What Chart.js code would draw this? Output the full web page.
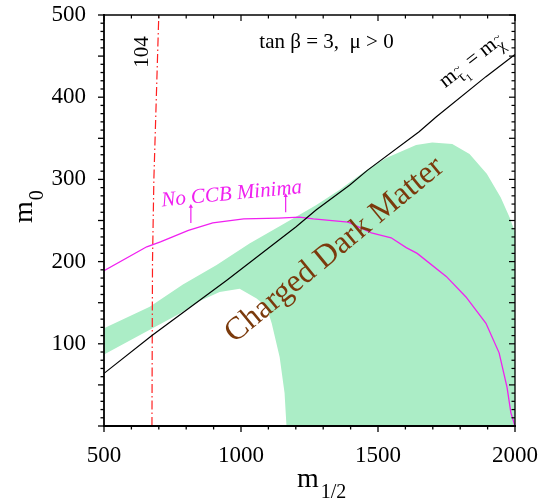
<!DOCTYPE html>
<html>
<head>
<meta charset="utf-8">
<script src="https://cdn.jsdelivr.net/npm/chart.js@4.4.0/dist/chart.umd.min.js"></script>
<style>
  html, body { margin: 0; padding: 0; background: #fff; }
  #wrap { width: 545px; height: 504px; }
</style>
</head>
<body>
<div id="wrap"><canvas id="chart" width="545" height="504"></canvas></div>
<script>
// tick labels
const xTickValues = [500, 1000, 1500, 2000];
const yTickValues = [100, 200, 300, 400, 500];

// m_stau1 = m_chi boundary
const stauX = [500, 675, 947, 1200, 1275, 1396, 1461, 1650, 1712, 1894, 2000];
const stauY = [64, 110, 177, 242, 263, 293, 311, 358, 376, 425, 452];

// LEP 104 contour
const lepX = [675, 677, 682, 691, 700];
const lepY = [0, 200, 300, 400, 500];

// No CCB minima boundary
const ccbX = [500, 656, 706, 808, 897, 1010, 1137, 1213, 1264, 1391, 1476, 1548, 1603, 1643, 1749, 1821, 1894, 1942, 1971, 1985, 2000];
const ccbY = [189, 218, 224, 238, 247, 252, 253, 254, 252, 248, 235, 229, 217, 210, 182, 157, 125, 89, 47, 16, 0];

// arrows on the CCB line
const arrowX = [817, 1163];
const arrowFrom = [247, 260];
const arrowTo = [267, 280];

// charged dark matter region (closed outline)
const cdmX = [500, 667, 788, 911, 1031, 1152, 1275, 1359, 1457, 1530, 1639, 1698, 1771, 1834, 1897, 1948, 1980, 2000,
              2000, 1166, 1159, 1141, 1112, 1093, 1057, 995, 922, 849, 777, 667, 500];
const cdmY = [119, 145, 172, 196, 222, 245, 269, 287, 311, 326, 342, 345, 343, 331, 307, 278, 254, 236,
              0, 0, 40, 84, 125, 145, 155, 167, 163, 152, 137, 117, 87];

const SERIF = '"Liberation Serif", "DejaVu Serif", serif';
const pts = (xs, ys) => xs.map((x, i) => ({ x: x, y: ys[i] }));

const datasets = [
    {
        data: pts(cdmX, cdmY),
        showLine: true,
        fill: 'shape',
        backgroundColor: '#abedc6',
        borderColor: 'rgba(0,0,0,0)',
        borderWidth: 0,
        pointRadius: 0,
        order: 10
    },
    {
        data: pts(stauX, stauY),
        showLine: true,
        borderColor: '#000',
        borderWidth: 1.2,
        pointRadius: 0,
        order: 2
    },
    {
        data: pts(ccbX, ccbY),
        showLine: true,
        borderColor: '#f020f0',
        borderWidth: 1.3,
        pointRadius: 0,
        order: 2
    },
    {
        data: pts(lepX, lepY),
        showLine: true,
        borderColor: '#ff2020',
        borderWidth: 1.2,
        borderDash: [9, 3, 1.5, 3],
        pointRadius: 0,
        order: 2
    }
];

arrowX.forEach((ax, i) => {
    datasets.push({
        data: [{ x: ax, y: arrowFrom[i] }, { x: ax, y: arrowTo[i] }],
        showLine: true,
        borderColor: '#f020f0',
        backgroundColor: '#f020f0',
        borderWidth: 1.2,
        pointStyle: 'triangle',
        pointRadius: [0, 2.5],
        pointBorderWidth: 0,
        order: 1
    });
});

// marco, marcas de los ejes y textos
const decorPlugin = {
    id: 'decor',
    afterDatasetsDraw(chart) {
        const ctx = chart.ctx;
        const xs = chart.scales.x, ys = chart.scales.y;
        const { left, right, top, bottom } = chart.chartArea;
        const px = v => xs.getPixelForValue(v);
        const py = v => ys.getPixelForValue(v);

        ctx.save();
        ctx.fillStyle = '#7b3a0c';
        ctx.font = '32px ' + SERIF;
        ctx.textAlign = 'center';
        ctx.textBaseline = 'middle';
        ctx.translate(px(1341), py(214));
        ctx.rotate(-39.5 * Math.PI / 180);
        ctx.fillText('Charged Dark Matter', 0, 0);
        ctx.restore();

        ctx.save();
        ctx.fillStyle = '#f020f0';
        ctx.font = 'italic 21px ' + SERIF;
        ctx.textAlign = 'center';
        ctx.textBaseline = 'middle';
        ctx.translate(px(966), py(282));
        ctx.rotate(-5.5 * Math.PI / 180);
        ctx.fillText('No CCB Minima', 0, 0);
        ctx.restore();

        ctx.save();
        ctx.fillStyle = '#000';
        ctx.font = '21px ' + SERIF;
        ctx.textAlign = 'center';
        ctx.textBaseline = 'middle';
        ctx.fillText('tan \u03b2 = 3,  \u03bc > 0', px(1312), py(467));
        ctx.translate(px(642), py(455));
        ctx.rotate(-Math.PI / 2);
        ctx.fillText('104', 0, 0);
        ctx.restore();

        // m_stau1 = m_chi label
        ctx.save();
        ctx.fillStyle = '#000';
        ctx.textAlign = 'left';
        ctx.textBaseline = 'alphabetic';
        ctx.translate(px(1745), py(411));
        ctx.rotate(-38 * Math.PI / 180);
        let cx = 0;
        ctx.font = '21px ' + SERIF;
        ctx.fillText('m', cx, 0);
        cx += ctx.measureText('m').width;
        ctx.font = '16px ' + SERIF;
        ctx.fillText('\u03c4', cx, 6);
        ctx.font = '13px ' + SERIF;
        ctx.fillText('~', cx + 1, -4);
        ctx.font = '16px ' + SERIF;
        cx += ctx.measureText('\u03c4').width;
        ctx.font = '11px ' + SERIF;
        ctx.fillText('1', cx, 10);
        cx += ctx.measureText('1').width;
        ctx.font = '21px ' + SERIF;
        ctx.fillText(' = m', cx, 0);
        cx += ctx.measureText(' = m').width;
        ctx.font = '16px ' + SERIF;
        ctx.fillText('\u03c7', cx, 6);
        ctx.font = '13px ' + SERIF;
        ctx.fillText('~', cx + 1, -4);
        ctx.restore();

        // marco
        ctx.save();
        ctx.strokeStyle = '#000';
        ctx.lineCap = 'square';
        const seg = (x1, y1, x2, y2, w) => {
            ctx.lineWidth = w;
            ctx.beginPath();
            ctx.moveTo(x1, y1);
            ctx.lineTo(x2, y2);
            ctx.stroke();
        };
        seg(left, top, right, top, 1.3);
        seg(right, top, right, bottom, 1.3);
        seg(left, bottom, right, bottom, 1.8);
        seg(left, top, left, bottom, 1.8);

        ctx.lineCap = 'butt';
        for (let v = 500; v <= 2000; v += 100) {
            const x = px(v);
            const len = v % 500 === 0 ? 6 : 3.5;
            seg(x, bottom, x, bottom + len, 1.3);
            seg(x, top, x, top + len, 1.2);
        }
        for (let v = 0; v <= 500; v += 10) {
            const y = py(v);
            const len = v % 50 === 0 ? 6 : 3.5;
            seg(left - len, y, left, y, 1.3);
            seg(right - len, y, right, y, 1.2);
        }
        ctx.restore();

        // titulos de los ejes
        ctx.save();
        ctx.fillStyle = '#000';
        ctx.textAlign = 'left';
        ctx.textBaseline = 'alphabetic';
        ctx.font = '28px ' + SERIF;
        ctx.fillText('m', 297, 487);
        let w = ctx.measureText('m').width;
        ctx.font = '20px ' + SERIF;
        ctx.fillText('1/2', 297 + w + 2, 498);

        ctx.translate(32, 223);
        ctx.rotate(-Math.PI / 2);
        ctx.font = '28px ' + SERIF;
        ctx.fillText('m', 0, 0);
        w = ctx.measureText('m').width;
        ctx.font = '20px ' + SERIF;
        ctx.fillText('0', w + 1, 11);
        ctx.restore();
    }
};

new Chart(document.getElementById('chart'), {
    type: 'scatter',
    data: { datasets: datasets },
    options: {
        responsive: false,
        animation: false,
        devicePixelRatio: 1,
        layout: { padding: { left: 0, right: 30, top: 15, bottom: 0 } },
        plugins: {
            legend: { display: false },
            tooltip: { enabled: false }
        },
        scales: {
            x: {
                type: 'linear',
                min: 500,
                max: 2000,
                afterBuildTicks: s => { s.ticks = xTickValues.map(v => ({ value: v })); },
                afterFit: s => { s.height = 78; s.paddingLeft = 0; s.paddingRight = 0; },
                grid: { display: false, drawTicks: false },
                border: { display: false },
                ticks: {
                    font: { family: SERIF, size: 23 },
                    color: '#000',
                    padding: 16,
                    maxRotation: 0,
                    autoSkip: false,
                    callback: v => String(v)
                }
            },
            y: {
                type: 'linear',
                min: 0,
                max: 500,
                afterBuildTicks: s => { s.ticks = yTickValues.map(v => ({ value: v })); },
                afterFit: s => { s.width = 104; s.paddingTop = 0; s.paddingBottom = 0; },
                grid: { display: false, drawTicks: false },
                border: { display: false },
                ticks: {
                    font: { family: SERIF, size: 23 },
                    color: '#000',
                    padding: 18,
                    autoSkip: false,
                    callback: v => String(v)
                }
            }
        }
    },
    plugins: [decorPlugin]
});
</script>
</body>
</html>
